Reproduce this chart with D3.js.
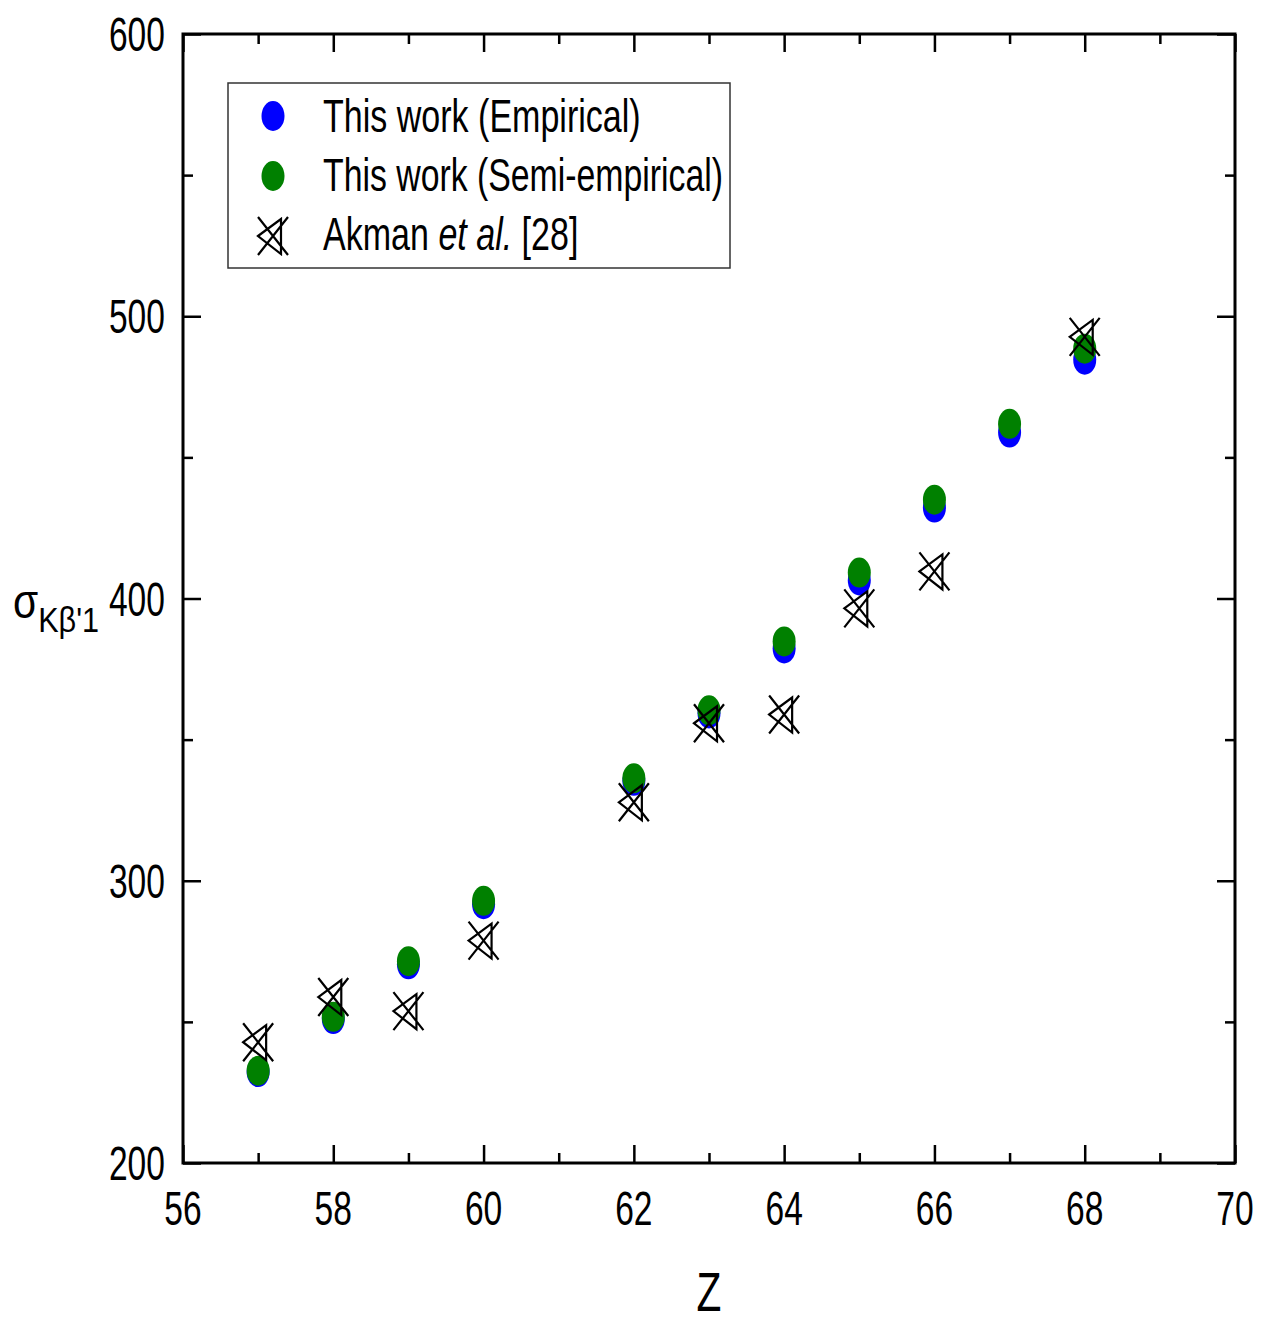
<!DOCTYPE html>
<html>
<head>
<meta charset="utf-8">
<script src="https://cdn.jsdelivr.net/npm/d3@7"></script>
<style>
  html, body { margin: 0; padding: 0; background: #fff; }
  svg { display: block; }
  text { font-family: "Liberation Sans", Arial, sans-serif; fill: #000; }
</style>
</head>
<body>
<svg id="chart" width="1261" height="1321"></svg>
<script>
// Atomic number Z of the measured elements
const zEmpirical = [57, 58, 59, 60, 62, 63, 64, 65, 66, 67, 68];
const empirical = [232.2, 251.0, 270.4, 291.7, 335.4, 359.3, 382.3, 406.4, 432.2, 458.8, 484.6];
const semiEmpirical = [232.7, 251.8, 271.5, 292.9, 336.3, 360.4, 384.8, 409.2, 435.0, 461.9, 488.5];

const zAkman = [57, 58, 59, 60, 62, 63, 64, 65, 66, 68];
const akman = [242.8, 258.8, 253.8, 278.8, 327.8, 355.8, 358.9, 396.5, 409.6, 492.7];

const xMajorTicks = [56, 58, 60, 62, 64, 66, 68, 70];
const xMinorTicks = [57, 59, 61, 63, 65, 67, 69];
const yMajorTicks = [200, 300, 400, 500, 600];
const yMinorTicks = [250, 350, 450, 550];

const legendLabels = ["This work (Empirical)", "This work (Semi-empirical)"];

const svg = d3.select("#chart");
const plotLeft = 183, plotRight = 1235, plotTop = 34, plotBottom = 1163;

const x = d3.scaleLinear().domain([56, 70]).range([plotLeft, plotRight]);
const y = d3.scaleLinear().domain([200, 600]).range([plotBottom, plotTop]);

const majorLen = 18, minorLen = 10;

// Inward ticks on all four sides
function ticks(axisFn, scale, values, len, translate) {
  const g = svg.append("g")
    .attr("transform", translate)
    .call(axisFn(scale).tickValues(values).tickSize(-len).tickFormat(""));
  g.select(".domain").remove();
  g.selectAll(".tick line").attr("stroke", "#000").attr("stroke-width", 2.5);
}
ticks(d3.axisBottom, x, xMajorTicks, majorLen, `translate(0,${plotBottom})`);
ticks(d3.axisBottom, x, xMinorTicks, minorLen, `translate(0,${plotBottom})`);
ticks(d3.axisTop, x, xMajorTicks, majorLen, `translate(0,${plotTop})`);
ticks(d3.axisTop, x, xMinorTicks, minorLen, `translate(0,${plotTop})`);
ticks(d3.axisLeft, y, yMajorTicks, majorLen, `translate(${plotLeft},0)`);
ticks(d3.axisLeft, y, yMinorTicks, minorLen, `translate(${plotLeft},0)`);
ticks(d3.axisRight, y, yMajorTicks, majorLen, `translate(${plotRight},0)`);
ticks(d3.axisRight, y, yMinorTicks, minorLen, `translate(${plotRight},0)`);

// Plot frame
svg.append("rect")
  .attr("x", plotLeft).attr("y", plotTop)
  .attr("width", plotRight - plotLeft).attr("height", plotBottom - plotTop)
  .attr("fill", "none").attr("stroke", "#000").attr("stroke-width", 3);

// Narrow-looking text: horizontally condensed
function label(px, py, str, size, anchor, sx) {
  return svg.append("text")
    .attr("transform", `translate(${px},${py}) scale(${sx},1)`)
    .attr("text-anchor", anchor)
    .attr("font-size", size)
    .text(str);
}

xMajorTicks.forEach(v => label(x(v), 1225, String(v), 48, "middle", 0.7));
yMajorTicks.forEach(v => label(165, y(v) + 17, String(v), 48, "end", 0.7));

label(709, 1311, "Z", 55, "middle", 0.74);

// Y axis title with subscript
const yt = svg.append("text")
  .attr("transform", "translate(13,618) scale(0.85,1)")
  .attr("font-size", 48);
yt.append("tspan").text("σ");
yt.append("tspan").attr("font-size", 36).attr("dy", 14).text("Kβ'1");

// Marker: cross overlaid with a left-pointing triangle
function akmanMarker(g) {
  g.append("path")
    .attr("d", "M-15,-19L15,19M15,-19L-15,19M-15,0L8,-17L8,18Z")
    .attr("fill", "none")
    .attr("stroke", "#000")
    .attr("stroke-width", 2.2)
    .attr("stroke-linejoin", "miter");
}

const rx = 11.5, ry = 15;

svg.append("g").selectAll("ellipse")
  .data(zEmpirical.map((z, i) => [z, empirical[i]]))
  .join("ellipse")
  .attr("cx", d => x(d[0])).attr("cy", d => y(d[1]))
  .attr("rx", rx).attr("ry", ry)
  .attr("fill", "#0000ff");

svg.append("g").selectAll("ellipse")
  .data(zEmpirical.map((z, i) => [z, semiEmpirical[i]]))
  .join("ellipse")
  .attr("cx", d => x(d[0])).attr("cy", d => y(d[1]))
  .attr("rx", rx).attr("ry", ry)
  .attr("fill", "#008000");

svg.append("g").selectAll("g")
  .data(zAkman.map((z, i) => [z, akman[i]]))
  .join("g")
  .attr("transform", d => `translate(${x(d[0])},${y(d[1])})`)
  .each(function () { akmanMarker(d3.select(this)); });

// Legend
const legend = svg.append("g");
legend.append("rect")
  .attr("x", 228).attr("y", 83).attr("width", 502).attr("height", 185)
  .attr("fill", "#fff").attr("stroke", "#333").attr("stroke-width", 1.5);

legend.append("ellipse").attr("cx", 273).attr("cy", 116).attr("rx", rx).attr("ry", ry).attr("fill", "#0000ff");
legend.append("ellipse").attr("cx", 273).attr("cy", 176).attr("rx", rx).attr("ry", ry).attr("fill", "#008000");
akmanMarker(legend.append("g").attr("transform", "translate(273,236)"));

label(323, 132, legendLabels[0], 46, "start", 0.74);
label(323, 191, legendLabels[1], 46, "start", 0.735);

const lt = svg.append("text")
  .attr("transform", "translate(323,250) scale(0.74,1)")
  .attr("font-size", 46);
lt.append("tspan").text("Akman ");
lt.append("tspan").attr("font-style", "italic").text("et al.");
lt.append("tspan").text(" [28]");
</script>
</body>
</html>
